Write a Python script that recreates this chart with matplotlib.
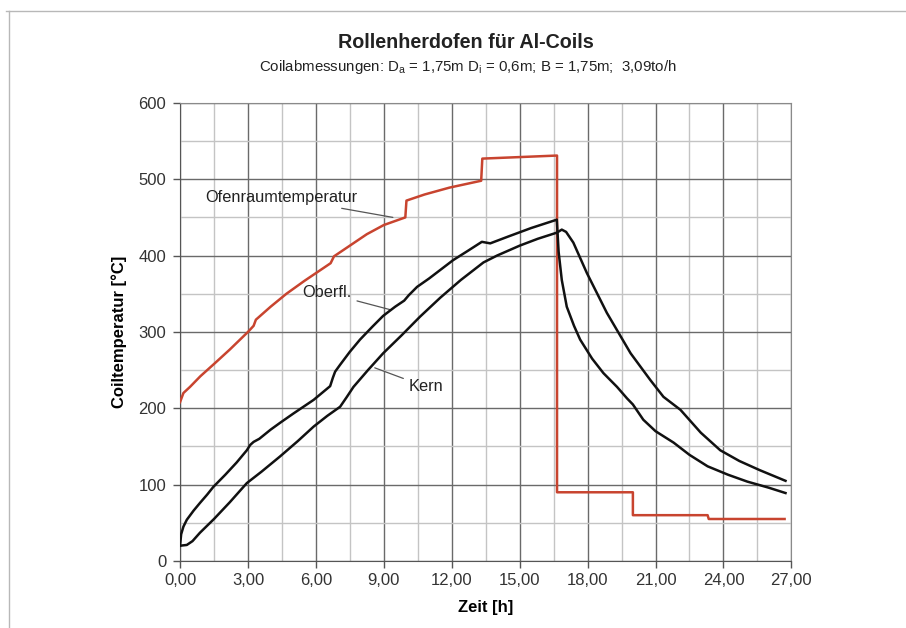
import matplotlib
matplotlib.use('Agg')
import matplotlib.pyplot as plt
from matplotlib.lines import Line2D
from matplotlib.ticker import MultipleLocator, FuncFormatter

plt.rcParams['font.family'] = ['Liberation Sans', 'DejaVu Sans']
plt.rcParams['mathtext.fontset'] = 'custom'
plt.rcParams['mathtext.rm'] = 'Liberation Sans'
plt.rcParams['mathtext.it'] = 'Liberation Sans'

# Ofenraumtemperatur (Zeit [h], Temperatur [°C])
ofen_t = [0, 0.15, 0.44, 0.9, 1.5, 2.2, 3.0, 3.25, 3.35, 4.0, 4.7, 5.5, 6.3, 6.65, 6.8,
          7.5, 8.25, 9.0, 9.95, 10.0, 10.8, 11.9, 13.3, 13.35, 15.0, 16.65, 16.65,
          20.0, 20.0, 23.3, 23.35, 26.7]
ofen_y = [208, 220, 228, 242, 258, 277, 300, 308, 316, 333, 350, 367, 383, 390, 399,
          413, 428, 440, 450, 472, 480, 489, 498, 527, 529, 531, 90,
          90, 60, 60, 55, 55]

# Oberflaeche
ober_t = [0, 0.05, 0.15, 0.3, 0.6, 0.88, 1.2, 1.47, 2.0, 2.5, 2.95, 3.1, 3.25, 3.5, 4.0,
          4.42, 5.0, 5.9, 6.63, 6.75, 6.85, 7.07, 7.5, 7.95, 8.5, 8.97, 9.5, 9.9, 10.1,
          10.47, 11.0, 12.06, 12.7, 13.33, 13.7, 14.5, 15.5, 16.64, 16.72, 16.86, 17.08,
          17.4, 17.67, 18.2, 18.7, 19.3, 19.74, 20.0, 20.46, 21.0, 21.8, 22.5, 23.3,
          24.2, 25.05, 26.0, 26.74]
ober_y = [20, 35, 45, 54, 66, 76, 87, 97, 113, 129, 145, 152, 156, 160, 172,
          181, 193, 211, 229, 240, 248, 257, 274, 290, 307, 321, 333, 341, 348,
          359, 370, 394, 406, 418, 416, 425, 436, 447, 405, 368, 333,
          308, 290, 265, 246, 228, 213, 205, 185, 170, 155, 139, 124,
          113, 104, 96, 89]

# Kern
kern_t = [0, 0.3, 0.55, 0.88, 1.5, 2.2, 2.95, 3.6, 4.42, 5.2, 5.9, 6.5, 7.07, 7.37,
          7.66, 8.3, 8.97, 9.8, 10.6, 11.5, 12.4, 13.4, 14.0, 15.0, 15.8, 16.64, 16.86,
          17.05, 17.37, 17.97, 18.85, 19.9, 20.77, 21.35, 22.1, 23.0, 23.86, 24.7,
          25.6, 26.74]
kern_y = [20, 21, 26, 37, 55, 77, 102, 117, 137, 157, 176, 190, 202, 215,
          228, 250, 272, 296, 320, 345, 368, 391, 400, 413, 422, 430, 434,
          431, 417, 377, 325, 272, 237, 215, 198, 168, 145, 131,
          119, 105]

fig = plt.figure(figsize=(9.06, 6.28), dpi=100)
ax = fig.add_axes([0.1987, 0.1067, 0.6748, 0.7295])

ax.plot(ofen_t, ofen_y, color='#c8442f', lw=1.8, zorder=3)
ax.plot(ober_t, ober_y, color='#111111', lw=1.8, zorder=4)
ax.plot(kern_t, kern_y, color='#111111', lw=1.8, zorder=4)

ax.set_xlim(0, 27)
ax.set_ylim(0, 600)
ax.xaxis.set_major_locator(MultipleLocator(3))
ax.xaxis.set_minor_locator(MultipleLocator(1.5))
ax.yaxis.set_major_locator(MultipleLocator(100))
ax.yaxis.set_minor_locator(MultipleLocator(50))
ax.xaxis.set_major_formatter(FuncFormatter(lambda v, p: f'{v:.2f}'.replace('.', ',')))
ax.grid(which='major', color='#6a6a6a', lw=1.0, zorder=1)
ax.grid(which='minor', color='#c4c4c4', lw=1.0, zorder=0)
ax.tick_params(which='major', direction='out', length=5, width=1, color='#555555',
               labelsize=12, labelcolor='#333333', pad=5)
ax.tick_params(axis='x', which='major', pad=4)
ax.tick_params(which='minor', length=0)
for s in ['left', 'bottom']:
    ax.spines[s].set_color('#555555')
for s in ['top', 'right']:
    ax.spines[s].set_color('#8a8a8a')

ax.set_xlabel('Zeit [h]', fontsize=12, fontweight='bold', labelpad=8)
ax.set_ylabel('Coiltemperatur [°C]', fontsize=12, fontweight='bold', labelpad=8)

# Beschriftungen mit Hinweislinien
ax.annotate('Ofenraumtemperatur', xy=(9.4, 450), xytext=(1.1, 476), fontsize=11.8,
            color='#222222', va='center', ha='left',
            arrowprops=dict(arrowstyle='-', color='#555555', lw=0.9, shrinkA=2, shrinkB=0))
ax.annotate('Oberfl.', xy=(9.3, 329), xytext=(5.4, 351), fontsize=11.8,
            color='#222222', va='center', ha='left',
            arrowprops=dict(arrowstyle='-', color='#555555', lw=0.9, shrinkA=2, shrinkB=0))
ax.annotate('Kern', xy=(8.6, 253), xytext=(10.1, 228), fontsize=11.8,
            color='#222222', va='center', ha='left',
            arrowprops=dict(arrowstyle='-', color='#555555', lw=0.9, shrinkA=2, shrinkB=0))

fig.text(0.514, 0.932, 'Rollenherdofen für Al-Coils', ha='center', va='center',
         fontsize=14.2, fontweight='bold', color='#222222')
fig.text(0.516, 0.893,
         r'Coilabmessungen: D$_\mathrm{a}$ = 1,75m D$_\mathrm{i}$ = 0,6m; B = 1,75m;  3,09to/h',
         ha='center', va='center', fontsize=10.8, color='#222222')

# heller Rahmen
fig.add_artist(Line2D([0.0066, 1.0], [0.9825, 0.9825], color='#b8b8b8', lw=1))
fig.add_artist(Line2D([0.0099, 0.0099], [0.0, 0.9825], color='#b8b8b8', lw=1))

plt.savefig('out.png', dpi=100)
